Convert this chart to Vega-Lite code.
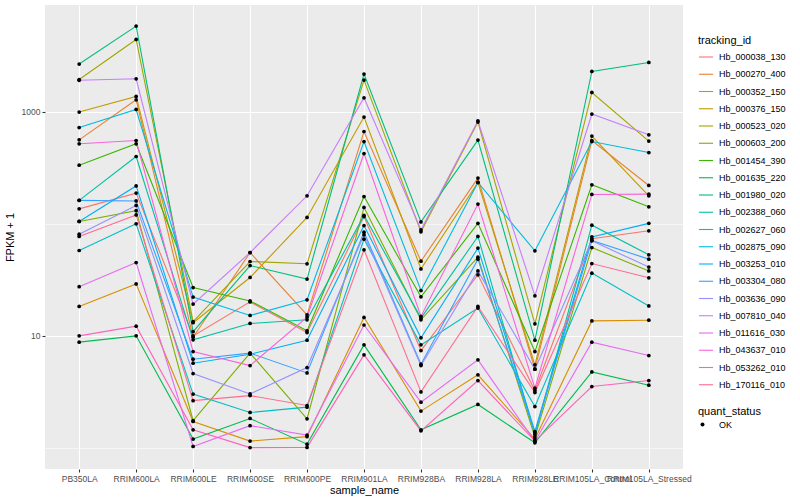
{
  "$schema": "https://vega.github.io/schema/vega-lite/v6.json",
  "width": 638,
  "height": 464,
  "autosize": {"type": "none"},
  "padding": {"left": 45, "top": 5, "right": 117, "bottom": 31},
  "background": "white",
  "config": {
    "view": {"fill": "#EBEBEB", "stroke": null},
    "font": "Liberation Sans",
    "axisX": {"grid": true, "gridColor": "white", "gridWidth": 1.1, "domain": false, "tickColor": "#333333", "tickSize": 3, "tickWidth": 1.1, "labelColor": "#4D4D4D", "labelFontSize": 8.5, "labelPadding": 2, "labelAngle": 0, "labelOverlap": false, "labelFlush": false, "labelBound": false, "titleFontSize": 11, "titleFontWeight": "normal", "titleColor": "black", "titlePadding": 2},
    "legend": {"titleFontSize": 11, "titleFontWeight": "normal", "titleColor": "black", "labelFontSize": 9, "labelColor": "black", "titlePadding": 3}
  },
  "data": {"values": [
{"sample_name":"PB350LA","tracking_id":"Hb_000038_130","FPKM_plus_1":136,"quant_status":"OK"},
{"sample_name":"RRIM600LA","tracking_id":"Hb_000038_130","FPKM_plus_1":188,"quant_status":"OK"},
{"sample_name":"RRIM600LE","tracking_id":"Hb_000038_130","FPKM_plus_1":10.0,"quant_status":"OK"},
{"sample_name":"RRIM600SE","tracking_id":"Hb_000038_130","FPKM_plus_1":20.1,"quant_status":"OK"},
{"sample_name":"RRIM600PE","tracking_id":"Hb_000038_130","FPKM_plus_1":10.7,"quant_status":"OK"},
{"sample_name":"RRIM901LA","tracking_id":"Hb_000038_130","FPKM_plus_1":116,"quant_status":"OK"},
{"sample_name":"RRIM928BA","tracking_id":"Hb_000038_130","FPKM_plus_1":7.39,"quant_status":"OK"},
{"sample_name":"RRIM928LA","tracking_id":"Hb_000038_130","FPKM_plus_1":35.1,"quant_status":"OK"},
{"sample_name":"RRIM928LE","tracking_id":"Hb_000038_130","FPKM_plus_1":3.25,"quant_status":"OK"},
{"sample_name":"RRIM105LA_Control","tracking_id":"Hb_000038_130","FPKM_plus_1":73.5,"quant_status":"OK"},
{"sample_name":"RRIM105LA_Stressed","tracking_id":"Hb_000038_130","FPKM_plus_1":86.6,"quant_status":"OK"},
{"sample_name":"PB350LA","tracking_id":"Hb_000270_400","FPKM_plus_1":562,"quant_status":"OK"},
{"sample_name":"RRIM600LA","tracking_id":"Hb_000270_400","FPKM_plus_1":1280,"quant_status":"OK"},
{"sample_name":"RRIM600LE","tracking_id":"Hb_000270_400","FPKM_plus_1":9.73,"quant_status":"OK"},
{"sample_name":"RRIM600SE","tracking_id":"Hb_000270_400","FPKM_plus_1":55.4,"quant_status":"OK"},
{"sample_name":"RRIM600PE","tracking_id":"Hb_000270_400","FPKM_plus_1":15.4,"quant_status":"OK"},
{"sample_name":"RRIM901LA","tracking_id":"Hb_000270_400","FPKM_plus_1":667,"quant_status":"OK"},
{"sample_name":"RRIM928BA","tracking_id":"Hb_000270_400","FPKM_plus_1":46.4,"quant_status":"OK"},
{"sample_name":"RRIM928LA","tracking_id":"Hb_000270_400","FPKM_plus_1":256,"quant_status":"OK"},
{"sample_name":"RRIM928LE","tracking_id":"Hb_000270_400","FPKM_plus_1":5.04,"quant_status":"OK"},
{"sample_name":"RRIM105LA_Control","tracking_id":"Hb_000270_400","FPKM_plus_1":554,"quant_status":"OK"},
{"sample_name":"RRIM105LA_Stressed","tracking_id":"Hb_000270_400","FPKM_plus_1":220,"quant_status":"OK"},
{"sample_name":"PB350LA","tracking_id":"Hb_000352_150","FPKM_plus_1":18.3,"quant_status":"OK"},
{"sample_name":"RRIM600LA","tracking_id":"Hb_000352_150","FPKM_plus_1":29.1,"quant_status":"OK"},
{"sample_name":"RRIM600LE","tracking_id":"Hb_000352_150","FPKM_plus_1":1.72,"quant_status":"OK"},
{"sample_name":"RRIM600SE","tracking_id":"Hb_000352_150","FPKM_plus_1":1.15,"quant_status":"OK"},
{"sample_name":"RRIM600PE","tracking_id":"Hb_000352_150","FPKM_plus_1":1.26,"quant_status":"OK"},
{"sample_name":"RRIM901LA","tracking_id":"Hb_000352_150","FPKM_plus_1":14.6,"quant_status":"OK"},
{"sample_name":"RRIM928BA","tracking_id":"Hb_000352_150","FPKM_plus_1":2.13,"quant_status":"OK"},
{"sample_name":"RRIM928LA","tracking_id":"Hb_000352_150","FPKM_plus_1":4.49,"quant_status":"OK"},
{"sample_name":"RRIM928LE","tracking_id":"Hb_000352_150","FPKM_plus_1":1.20,"quant_status":"OK"},
{"sample_name":"RRIM105LA_Control","tracking_id":"Hb_000352_150","FPKM_plus_1":13.6,"quant_status":"OK"},
{"sample_name":"RRIM105LA_Stressed","tracking_id":"Hb_000352_150","FPKM_plus_1":13.8,"quant_status":"OK"},
{"sample_name":"PB350LA","tracking_id":"Hb_000376_150","FPKM_plus_1":994,"quant_status":"OK"},
{"sample_name":"RRIM600LA","tracking_id":"Hb_000376_150","FPKM_plus_1":1370,"quant_status":"OK"},
{"sample_name":"RRIM600LE","tracking_id":"Hb_000376_150","FPKM_plus_1":13.1,"quant_status":"OK"},
{"sample_name":"RRIM600SE","tracking_id":"Hb_000376_150","FPKM_plus_1":33.2,"quant_status":"OK"},
{"sample_name":"RRIM600PE","tracking_id":"Hb_000376_150","FPKM_plus_1":114,"quant_status":"OK"},
{"sample_name":"RRIM901LA","tracking_id":"Hb_000376_150","FPKM_plus_1":897,"quant_status":"OK"},
{"sample_name":"RRIM928BA","tracking_id":"Hb_000376_150","FPKM_plus_1":39.6,"quant_status":"OK"},
{"sample_name":"RRIM928LA","tracking_id":"Hb_000376_150","FPKM_plus_1":234,"quant_status":"OK"},
{"sample_name":"RRIM928LE","tracking_id":"Hb_000376_150","FPKM_plus_1":5.51,"quant_status":"OK"},
{"sample_name":"RRIM105LA_Control","tracking_id":"Hb_000376_150","FPKM_plus_1":607,"quant_status":"OK"},
{"sample_name":"RRIM105LA_Stressed","tracking_id":"Hb_000376_150","FPKM_plus_1":178,"quant_status":"OK"},
{"sample_name":"PB350LA","tracking_id":"Hb_000523_020","FPKM_plus_1":1942,"quant_status":"OK"},
{"sample_name":"RRIM600LA","tracking_id":"Hb_000523_020","FPKM_plus_1":4424,"quant_status":"OK"},
{"sample_name":"RRIM600LE","tracking_id":"Hb_000523_020","FPKM_plus_1":13.4,"quant_status":"OK"},
{"sample_name":"RRIM600SE","tracking_id":"Hb_000523_020","FPKM_plus_1":46.1,"quant_status":"OK"},
{"sample_name":"RRIM600PE","tracking_id":"Hb_000523_020","FPKM_plus_1":44.0,"quant_status":"OK"},
{"sample_name":"RRIM901LA","tracking_id":"Hb_000523_020","FPKM_plus_1":1919,"quant_status":"OK"},
{"sample_name":"RRIM928BA","tracking_id":"Hb_000523_020","FPKM_plus_1":84.8,"quant_status":"OK"},
{"sample_name":"RRIM928LA","tracking_id":"Hb_000523_020","FPKM_plus_1":809,"quant_status":"OK"},
{"sample_name":"RRIM928LE","tracking_id":"Hb_000523_020","FPKM_plus_1":12.8,"quant_status":"OK"},
{"sample_name":"RRIM105LA_Control","tracking_id":"Hb_000523_020","FPKM_plus_1":1487,"quant_status":"OK"},
{"sample_name":"RRIM105LA_Stressed","tracking_id":"Hb_000523_020","FPKM_plus_1":548,"quant_status":"OK"},
{"sample_name":"PB350LA","tracking_id":"Hb_000603_200","FPKM_plus_1":105,"quant_status":"OK"},
{"sample_name":"RRIM600LA","tracking_id":"Hb_000603_200","FPKM_plus_1":131,"quant_status":"OK"},
{"sample_name":"RRIM600LE","tracking_id":"Hb_000603_200","FPKM_plus_1":1.75,"quant_status":"OK"},
{"sample_name":"RRIM600SE","tracking_id":"Hb_000603_200","FPKM_plus_1":7.01,"quant_status":"OK"},
{"sample_name":"RRIM600PE","tracking_id":"Hb_000603_200","FPKM_plus_1":1.82,"quant_status":"OK"},
{"sample_name":"RRIM901LA","tracking_id":"Hb_000603_200","FPKM_plus_1":140,"quant_status":"OK"},
{"sample_name":"RRIM928BA","tracking_id":"Hb_000603_200","FPKM_plus_1":13.9,"quant_status":"OK"},
{"sample_name":"RRIM928LA","tracking_id":"Hb_000603_200","FPKM_plus_1":50.4,"quant_status":"OK"},
{"sample_name":"RRIM928LE","tracking_id":"Hb_000603_200","FPKM_plus_1":1.25,"quant_status":"OK"},
{"sample_name":"RRIM105LA_Control","tracking_id":"Hb_000603_200","FPKM_plus_1":61.4,"quant_status":"OK"},
{"sample_name":"RRIM105LA_Stressed","tracking_id":"Hb_000603_200","FPKM_plus_1":38.0,"quant_status":"OK"},
{"sample_name":"PB350LA","tracking_id":"Hb_001454_390","FPKM_plus_1":334,"quant_status":"OK"},
{"sample_name":"RRIM600LA","tracking_id":"Hb_001454_390","FPKM_plus_1":518,"quant_status":"OK"},
{"sample_name":"RRIM600LE","tracking_id":"Hb_001454_390","FPKM_plus_1":27.0,"quant_status":"OK"},
{"sample_name":"RRIM600SE","tracking_id":"Hb_001454_390","FPKM_plus_1":20.5,"quant_status":"OK"},
{"sample_name":"RRIM600PE","tracking_id":"Hb_001454_390","FPKM_plus_1":11.1,"quant_status":"OK"},
{"sample_name":"RRIM901LA","tracking_id":"Hb_001454_390","FPKM_plus_1":175,"quant_status":"OK"},
{"sample_name":"RRIM928BA","tracking_id":"Hb_001454_390","FPKM_plus_1":22.3,"quant_status":"OK"},
{"sample_name":"RRIM928LA","tracking_id":"Hb_001454_390","FPKM_plus_1":101,"quant_status":"OK"},
{"sample_name":"RRIM928LE","tracking_id":"Hb_001454_390","FPKM_plus_1":7.24,"quant_status":"OK"},
{"sample_name":"RRIM105LA_Control","tracking_id":"Hb_001454_390","FPKM_plus_1":223,"quant_status":"OK"},
{"sample_name":"RRIM105LA_Stressed","tracking_id":"Hb_001454_390","FPKM_plus_1":142,"quant_status":"OK"},
{"sample_name":"PB350LA","tracking_id":"Hb_001635_220","FPKM_plus_1":8.79,"quant_status":"OK"},
{"sample_name":"RRIM600LA","tracking_id":"Hb_001635_220","FPKM_plus_1":10.0,"quant_status":"OK"},
{"sample_name":"RRIM600LE","tracking_id":"Hb_001635_220","FPKM_plus_1":1.20,"quant_status":"OK"},
{"sample_name":"RRIM600SE","tracking_id":"Hb_001635_220","FPKM_plus_1":1.83,"quant_status":"OK"},
{"sample_name":"RRIM600PE","tracking_id":"Hb_001635_220","FPKM_plus_1":1.08,"quant_status":"OK"},
{"sample_name":"RRIM901LA","tracking_id":"Hb_001635_220","FPKM_plus_1":8.31,"quant_status":"OK"},
{"sample_name":"RRIM928BA","tracking_id":"Hb_001635_220","FPKM_plus_1":1.45,"quant_status":"OK"},
{"sample_name":"RRIM928LA","tracking_id":"Hb_001635_220","FPKM_plus_1":2.44,"quant_status":"OK"},
{"sample_name":"RRIM928LE","tracking_id":"Hb_001635_220","FPKM_plus_1":1.11,"quant_status":"OK"},
{"sample_name":"RRIM105LA_Control","tracking_id":"Hb_001635_220","FPKM_plus_1":4.77,"quant_status":"OK"},
{"sample_name":"RRIM105LA_Stressed","tracking_id":"Hb_001635_220","FPKM_plus_1":3.63,"quant_status":"OK"},
{"sample_name":"PB350LA","tracking_id":"Hb_001980_020","FPKM_plus_1":2667,"quant_status":"OK"},
{"sample_name":"RRIM600LA","tracking_id":"Hb_001980_020","FPKM_plus_1":5822,"quant_status":"OK"},
{"sample_name":"RRIM600LE","tracking_id":"Hb_001980_020","FPKM_plus_1":10.9,"quant_status":"OK"},
{"sample_name":"RRIM600SE","tracking_id":"Hb_001980_020","FPKM_plus_1":42.4,"quant_status":"OK"},
{"sample_name":"RRIM600PE","tracking_id":"Hb_001980_020","FPKM_plus_1":32.1,"quant_status":"OK"},
{"sample_name":"RRIM901LA","tracking_id":"Hb_001980_020","FPKM_plus_1":2171,"quant_status":"OK"},
{"sample_name":"RRIM928BA","tracking_id":"Hb_001980_020","FPKM_plus_1":104,"quant_status":"OK"},
{"sample_name":"RRIM928LA","tracking_id":"Hb_001980_020","FPKM_plus_1":559,"quant_status":"OK"},
{"sample_name":"RRIM928LE","tracking_id":"Hb_001980_020","FPKM_plus_1":9.15,"quant_status":"OK"},
{"sample_name":"RRIM105LA_Control","tracking_id":"Hb_001980_020","FPKM_plus_1":2290,"quant_status":"OK"},
{"sample_name":"RRIM105LA_Stressed","tracking_id":"Hb_001980_020","FPKM_plus_1":2756,"quant_status":"OK"},
{"sample_name":"PB350LA","tracking_id":"Hb_002388_060","FPKM_plus_1":162,"quant_status":"OK"},
{"sample_name":"RRIM600LA","tracking_id":"Hb_002388_060","FPKM_plus_1":399,"quant_status":"OK"},
{"sample_name":"RRIM600LE","tracking_id":"Hb_002388_060","FPKM_plus_1":9.21,"quant_status":"OK"},
{"sample_name":"RRIM600SE","tracking_id":"Hb_002388_060","FPKM_plus_1":12.9,"quant_status":"OK"},
{"sample_name":"RRIM600PE","tracking_id":"Hb_002388_060","FPKM_plus_1":13.9,"quant_status":"OK"},
{"sample_name":"RRIM901LA","tracking_id":"Hb_002388_060","FPKM_plus_1":119,"quant_status":"OK"},
{"sample_name":"RRIM928BA","tracking_id":"Hb_002388_060","FPKM_plus_1":14.4,"quant_status":"OK"},
{"sample_name":"RRIM928LA","tracking_id":"Hb_002388_060","FPKM_plus_1":77.1,"quant_status":"OK"},
{"sample_name":"RRIM928LE","tracking_id":"Hb_002388_060","FPKM_plus_1":1.31,"quant_status":"OK"},
{"sample_name":"RRIM105LA_Control","tracking_id":"Hb_002388_060","FPKM_plus_1":97.3,"quant_status":"OK"},
{"sample_name":"RRIM105LA_Stressed","tracking_id":"Hb_002388_060","FPKM_plus_1":52.9,"quant_status":"OK"},
{"sample_name":"PB350LA","tracking_id":"Hb_002627_060","FPKM_plus_1":57.8,"quant_status":"OK"},
{"sample_name":"RRIM600LA","tracking_id":"Hb_002627_060","FPKM_plus_1":100,"quant_status":"OK"},
{"sample_name":"RRIM600LE","tracking_id":"Hb_002627_060","FPKM_plus_1":3.02,"quant_status":"OK"},
{"sample_name":"RRIM600SE","tracking_id":"Hb_002627_060","FPKM_plus_1":2.07,"quant_status":"OK"},
{"sample_name":"RRIM600PE","tracking_id":"Hb_002627_060","FPKM_plus_1":2.31,"quant_status":"OK"},
{"sample_name":"RRIM901LA","tracking_id":"Hb_002627_060","FPKM_plus_1":73.0,"quant_status":"OK"},
{"sample_name":"RRIM928BA","tracking_id":"Hb_002627_060","FPKM_plus_1":8.31,"quant_status":"OK"},
{"sample_name":"RRIM928LA","tracking_id":"Hb_002627_060","FPKM_plus_1":17.7,"quant_status":"OK"},
{"sample_name":"RRIM928LE","tracking_id":"Hb_002627_060","FPKM_plus_1":2.34,"quant_status":"OK"},
{"sample_name":"RRIM105LA_Control","tracking_id":"Hb_002627_060","FPKM_plus_1":36.3,"quant_status":"OK"},
{"sample_name":"RRIM105LA_Stressed","tracking_id":"Hb_002627_060","FPKM_plus_1":18.5,"quant_status":"OK"},
{"sample_name":"PB350LA","tracking_id":"Hb_002875_090","FPKM_plus_1":724,"quant_status":"OK"},
{"sample_name":"RRIM600LA","tracking_id":"Hb_002875_090","FPKM_plus_1":1049,"quant_status":"OK"},
{"sample_name":"RRIM600LE","tracking_id":"Hb_002875_090","FPKM_plus_1":22.2,"quant_status":"OK"},
{"sample_name":"RRIM600SE","tracking_id":"Hb_002875_090","FPKM_plus_1":15.2,"quant_status":"OK"},
{"sample_name":"RRIM600PE","tracking_id":"Hb_002875_090","FPKM_plus_1":21.0,"quant_status":"OK"},
{"sample_name":"RRIM901LA","tracking_id":"Hb_002875_090","FPKM_plus_1":543,"quant_status":"OK"},
{"sample_name":"RRIM928BA","tracking_id":"Hb_002875_090","FPKM_plus_1":25.4,"quant_status":"OK"},
{"sample_name":"RRIM928LA","tracking_id":"Hb_002875_090","FPKM_plus_1":234,"quant_status":"OK"},
{"sample_name":"RRIM928LE","tracking_id":"Hb_002875_090","FPKM_plus_1":57.4,"quant_status":"OK"},
{"sample_name":"RRIM105LA_Control","tracking_id":"Hb_002875_090","FPKM_plus_1":543,"quant_status":"OK"},
{"sample_name":"RRIM105LA_Stressed","tracking_id":"Hb_002875_090","FPKM_plus_1":433,"quant_status":"OK"},
{"sample_name":"PB350LA","tracking_id":"Hb_003253_010","FPKM_plus_1":105,"quant_status":"OK"},
{"sample_name":"RRIM600LA","tracking_id":"Hb_003253_010","FPKM_plus_1":218,"quant_status":"OK"},
{"sample_name":"RRIM600LE","tracking_id":"Hb_003253_010","FPKM_plus_1":5.70,"quant_status":"OK"},
{"sample_name":"RRIM600SE","tracking_id":"Hb_003253_010","FPKM_plus_1":6.86,"quant_status":"OK"},
{"sample_name":"RRIM600PE","tracking_id":"Hb_003253_010","FPKM_plus_1":9.15,"quant_status":"OK"},
{"sample_name":"RRIM901LA","tracking_id":"Hb_003253_010","FPKM_plus_1":96.6,"quant_status":"OK"},
{"sample_name":"RRIM928BA","tracking_id":"Hb_003253_010","FPKM_plus_1":9.60,"quant_status":"OK"},
{"sample_name":"RRIM928LA","tracking_id":"Hb_003253_010","FPKM_plus_1":60.7,"quant_status":"OK"},
{"sample_name":"RRIM928LE","tracking_id":"Hb_003253_010","FPKM_plus_1":1.40,"quant_status":"OK"},
{"sample_name":"RRIM105LA_Control","tracking_id":"Hb_003253_010","FPKM_plus_1":76.5,"quant_status":"OK"},
{"sample_name":"RRIM105LA_Stressed","tracking_id":"Hb_003253_010","FPKM_plus_1":101,"quant_status":"OK"},
{"sample_name":"PB350LA","tracking_id":"Hb_003304_080","FPKM_plus_1":162,"quant_status":"OK"},
{"sample_name":"RRIM600LA","tracking_id":"Hb_003304_080","FPKM_plus_1":160,"quant_status":"OK"},
{"sample_name":"RRIM600LE","tracking_id":"Hb_003304_080","FPKM_plus_1":6.19,"quant_status":"OK"},
{"sample_name":"RRIM600SE","tracking_id":"Hb_003304_080","FPKM_plus_1":7.01,"quant_status":"OK"},
{"sample_name":"RRIM600PE","tracking_id":"Hb_003304_080","FPKM_plus_1":4.67,"quant_status":"OK"},
{"sample_name":"RRIM901LA","tracking_id":"Hb_003304_080","FPKM_plus_1":84.3,"quant_status":"OK"},
{"sample_name":"RRIM928BA","tracking_id":"Hb_003304_080","FPKM_plus_1":5.59,"quant_status":"OK"},
{"sample_name":"RRIM928LA","tracking_id":"Hb_003304_080","FPKM_plus_1":48.4,"quant_status":"OK"},
{"sample_name":"RRIM928LE","tracking_id":"Hb_003304_080","FPKM_plus_1":1.36,"quant_status":"OK"},
{"sample_name":"RRIM105LA_Control","tracking_id":"Hb_003304_080","FPKM_plus_1":71.0,"quant_status":"OK"},
{"sample_name":"RRIM105LA_Stressed","tracking_id":"Hb_003304_080","FPKM_plus_1":48.4,"quant_status":"OK"},
{"sample_name":"PB350LA","tracking_id":"Hb_003636_090","FPKM_plus_1":80.9,"quant_status":"OK"},
{"sample_name":"RRIM600LA","tracking_id":"Hb_003636_090","FPKM_plus_1":146,"quant_status":"OK"},
{"sample_name":"RRIM600LE","tracking_id":"Hb_003636_090","FPKM_plus_1":4.61,"quant_status":"OK"},
{"sample_name":"RRIM600SE","tracking_id":"Hb_003636_090","FPKM_plus_1":3.03,"quant_status":"OK"},
{"sample_name":"RRIM600PE","tracking_id":"Hb_003636_090","FPKM_plus_1":5.21,"quant_status":"OK"},
{"sample_name":"RRIM901LA","tracking_id":"Hb_003636_090","FPKM_plus_1":79.8,"quant_status":"OK"},
{"sample_name":"RRIM928BA","tracking_id":"Hb_003636_090","FPKM_plus_1":5.43,"quant_status":"OK"},
{"sample_name":"RRIM928LA","tracking_id":"Hb_003636_090","FPKM_plus_1":38.0,"quant_status":"OK"},
{"sample_name":"RRIM928LE","tracking_id":"Hb_003636_090","FPKM_plus_1":5.04,"quant_status":"OK"},
{"sample_name":"RRIM105LA_Control","tracking_id":"Hb_003636_090","FPKM_plus_1":70.5,"quant_status":"OK"},
{"sample_name":"RRIM105LA_Stressed","tracking_id":"Hb_003636_090","FPKM_plus_1":41.1,"quant_status":"OK"},
{"sample_name":"PB350LA","tracking_id":"Hb_007810_040","FPKM_plus_1":1911,"quant_status":"OK"},
{"sample_name":"RRIM600LA","tracking_id":"Hb_007810_040","FPKM_plus_1":1972,"quant_status":"OK"},
{"sample_name":"RRIM600LE","tracking_id":"Hb_007810_040","FPKM_plus_1":19.2,"quant_status":"OK"},
{"sample_name":"RRIM600SE","tracking_id":"Hb_007810_040","FPKM_plus_1":55.4,"quant_status":"OK"},
{"sample_name":"RRIM600PE","tracking_id":"Hb_007810_040","FPKM_plus_1":178,"quant_status":"OK"},
{"sample_name":"RRIM901LA","tracking_id":"Hb_007810_040","FPKM_plus_1":1334,"quant_status":"OK"},
{"sample_name":"RRIM928BA","tracking_id":"Hb_007810_040","FPKM_plus_1":88.4,"quant_status":"OK"},
{"sample_name":"RRIM928LA","tracking_id":"Hb_007810_040","FPKM_plus_1":831,"quant_status":"OK"},
{"sample_name":"RRIM928LE","tracking_id":"Hb_007810_040","FPKM_plus_1":22.8,"quant_status":"OK"},
{"sample_name":"RRIM105LA_Control","tracking_id":"Hb_007810_040","FPKM_plus_1":954,"quant_status":"OK"},
{"sample_name":"RRIM105LA_Stressed","tracking_id":"Hb_007810_040","FPKM_plus_1":623,"quant_status":"OK"},
{"sample_name":"PB350LA","tracking_id":"Hb_011616_030","FPKM_plus_1":27.5,"quant_status":"OK"},
{"sample_name":"RRIM600LA","tracking_id":"Hb_011616_030","FPKM_plus_1":45.1,"quant_status":"OK"},
{"sample_name":"RRIM600LE","tracking_id":"Hb_011616_030","FPKM_plus_1":1.03,"quant_status":"OK"},
{"sample_name":"RRIM600SE","tracking_id":"Hb_011616_030","FPKM_plus_1":1.58,"quant_status":"OK"},
{"sample_name":"RRIM600PE","tracking_id":"Hb_011616_030","FPKM_plus_1":1.30,"quant_status":"OK"},
{"sample_name":"RRIM901LA","tracking_id":"Hb_011616_030","FPKM_plus_1":12.5,"quant_status":"OK"},
{"sample_name":"RRIM928BA","tracking_id":"Hb_011616_030","FPKM_plus_1":2.56,"quant_status":"OK"},
{"sample_name":"RRIM928LA","tracking_id":"Hb_011616_030","FPKM_plus_1":6.11,"quant_status":"OK"},
{"sample_name":"RRIM928LE","tracking_id":"Hb_011616_030","FPKM_plus_1":1.14,"quant_status":"OK"},
{"sample_name":"RRIM105LA_Control","tracking_id":"Hb_011616_030","FPKM_plus_1":8.79,"quant_status":"OK"},
{"sample_name":"RRIM105LA_Stressed","tracking_id":"Hb_011616_030","FPKM_plus_1":6.67,"quant_status":"OK"},
{"sample_name":"PB350LA","tracking_id":"Hb_043637_010","FPKM_plus_1":518,"quant_status":"OK"},
{"sample_name":"RRIM600LA","tracking_id":"Hb_043637_010","FPKM_plus_1":554,"quant_status":"OK"},
{"sample_name":"RRIM600LE","tracking_id":"Hb_043637_010","FPKM_plus_1":7.24,"quant_status":"OK"},
{"sample_name":"RRIM600SE","tracking_id":"Hb_043637_010","FPKM_plus_1":5.43,"quant_status":"OK"},
{"sample_name":"RRIM600PE","tracking_id":"Hb_043637_010","FPKM_plus_1":14.7,"quant_status":"OK"},
{"sample_name":"RRIM901LA","tracking_id":"Hb_043637_010","FPKM_plus_1":424,"quant_status":"OK"},
{"sample_name":"RRIM928BA","tracking_id":"Hb_043637_010","FPKM_plus_1":14.9,"quant_status":"OK"},
{"sample_name":"RRIM928LA","tracking_id":"Hb_043637_010","FPKM_plus_1":150,"quant_status":"OK"},
{"sample_name":"RRIM928LE","tracking_id":"Hb_043637_010","FPKM_plus_1":3.41,"quant_status":"OK"},
{"sample_name":"RRIM105LA_Control","tracking_id":"Hb_043637_010","FPKM_plus_1":183,"quant_status":"OK"},
{"sample_name":"RRIM105LA_Stressed","tracking_id":"Hb_043637_010","FPKM_plus_1":184,"quant_status":"OK"},
{"sample_name":"PB350LA","tracking_id":"Hb_053262_010","FPKM_plus_1":10.0,"quant_status":"OK"},
{"sample_name":"RRIM600LA","tracking_id":"Hb_053262_010","FPKM_plus_1":12.2,"quant_status":"OK"},
{"sample_name":"RRIM600LE","tracking_id":"Hb_053262_010","FPKM_plus_1":1.45,"quant_status":"OK"},
{"sample_name":"RRIM600SE","tracking_id":"Hb_053262_010","FPKM_plus_1":1.006,"quant_status":"OK"},
{"sample_name":"RRIM600PE","tracking_id":"Hb_053262_010","FPKM_plus_1":1.01,"quant_status":"OK"},
{"sample_name":"RRIM901LA","tracking_id":"Hb_053262_010","FPKM_plus_1":6.77,"quant_status":"OK"},
{"sample_name":"RRIM928BA","tracking_id":"Hb_053262_010","FPKM_plus_1":1.42,"quant_status":"OK"},
{"sample_name":"RRIM928LA","tracking_id":"Hb_053262_010","FPKM_plus_1":3.99,"quant_status":"OK"},
{"sample_name":"RRIM928LE","tracking_id":"Hb_053262_010","FPKM_plus_1":1.15,"quant_status":"OK"},
{"sample_name":"RRIM105LA_Control","tracking_id":"Hb_053262_010","FPKM_plus_1":3.53,"quant_status":"OK"},
{"sample_name":"RRIM105LA_Stressed","tracking_id":"Hb_053262_010","FPKM_plus_1":3.99,"quant_status":"OK"},
{"sample_name":"PB350LA","tracking_id":"Hb_170116_010","FPKM_plus_1":77.1,"quant_status":"OK"},
{"sample_name":"RRIM600LA","tracking_id":"Hb_170116_010","FPKM_plus_1":120,"quant_status":"OK"},
{"sample_name":"RRIM600LE","tracking_id":"Hb_170116_010","FPKM_plus_1":2.64,"quant_status":"OK"},
{"sample_name":"RRIM600SE","tracking_id":"Hb_170116_010","FPKM_plus_1":2.93,"quant_status":"OK"},
{"sample_name":"RRIM600PE","tracking_id":"Hb_170116_010","FPKM_plus_1":2.39,"quant_status":"OK"},
{"sample_name":"RRIM901LA","tracking_id":"Hb_170116_010","FPKM_plus_1":58.6,"quant_status":"OK"},
{"sample_name":"RRIM928BA","tracking_id":"Hb_170116_010","FPKM_plus_1":3.16,"quant_status":"OK"},
{"sample_name":"RRIM928LA","tracking_id":"Hb_170116_010","FPKM_plus_1":18.3,"quant_status":"OK"},
{"sample_name":"RRIM928LE","tracking_id":"Hb_170116_010","FPKM_plus_1":3.12,"quant_status":"OK"},
{"sample_name":"RRIM105LA_Control","tracking_id":"Hb_170116_010","FPKM_plus_1":44.2,"quant_status":"OK"},
{"sample_name":"RRIM105LA_Stressed","tracking_id":"Hb_170116_010","FPKM_plus_1":33.0,"quant_status":"OK"}
  ]},
  "encoding": {
    "x": {"field": "sample_name", "type": "ordinal", "title": "sample_name",
      "sort": ["PB350LA","RRIM600LA","RRIM600LE","RRIM600SE","RRIM600PE","RRIM901LA","RRIM928BA","RRIM928LA","RRIM928LE","RRIM105LA_Control","RRIM105LA_Stressed"],
      "scale": {"type": "point", "padding": 0.6}},
    "y": {"field": "FPKM_plus_1", "type": "quantitative", "title": "FPKM + 1",
      "scale": {"type": "log", "domain": [0.648, 8980], "nice": false},
      "axis": {"values": [1, 10, 100, 1000], "format": "d",
        "labelExpr": "datum.value == 10 || datum.value == 1000 ? datum.label : ''",
        "grid": true, "gridColor": "white",
        "gridWidth": {"condition": {"test": "datum.value == 10 || datum.value == 1000", "value": 1.1}, "value": 0.55},
        "tickOpacity": {"condition": {"test": "datum.value == 10 || datum.value == 1000", "value": 1}, "value": 0},
        "domain": false, "tickColor": "#333333", "tickSize": 3, "tickWidth": 1.1,
        "labelColor": "#4D4D4D", "labelFontSize": 8.5, "labelPadding": 2,
        "titleFontSize": 11, "titleFontWeight": "normal", "titleColor": "black", "titlePadding": 6}}
  },
  "layer": [
    {"mark": {"type": "line", "strokeWidth": 1.1},
     "encoding": {
       "color": {"field": "tracking_id", "type": "nominal", "title": "tracking_id",
         "scale": {"domain": ["Hb_000038_130","Hb_000270_400","Hb_000352_150","Hb_000376_150","Hb_000523_020","Hb_000603_200","Hb_001454_390","Hb_001635_220","Hb_001980_020","Hb_002388_060","Hb_002627_060","Hb_002875_090","Hb_003253_010","Hb_003304_080","Hb_003636_090","Hb_007810_040","Hb_011616_030","Hb_043637_010","Hb_053262_010","Hb_170116_010"],
           "range": ["#F8766D","#EA8331","#D89000","#C09B00","#A3A500","#7CAE00","#39B600","#00BB4E","#00BF7D","#00C1A3","#00BFC4","#00BAE0","#00B0F6","#35A2FF","#9590FF","#C77CFF","#E76BF3","#FA62DB","#FF62BC","#FF6C91"]},
         "legend": {"orient": "none", "legendX": 653, "legendY": 30, "symbolType": "stroke", "symbolSize": 200, "symbolStrokeWidth": 1.1, "rowPadding": 4.25, "labelOffset": 5}},
       "order": {"value": null}
     }},
    {"mark": {"type": "point", "filled": true, "size": 14, "color": "black", "opacity": 1},
     "encoding": {
       "shape": {"field": "quant_status", "type": "nominal", "title": "quant_status",
         "scale": {"range": ["circle"]},
         "legend": {"orient": "none", "legendX": 653, "legendY": 401, "symbolSize": 16, "symbolFillColor": "black", "labelOffset": 12}}
     }}
  ]
}
